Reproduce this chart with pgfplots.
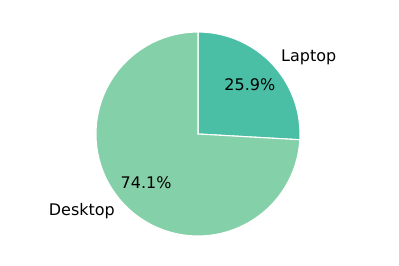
\documentclass[border=0pt]{standalone}
\usepackage{pgfplots}
\pgfplotsset{compat=1.18}
\usepackage{fontspec}
\setmainfont{DejaVu Sans}
\definecolor{lapc}{RGB}{75,191,166}
\definecolor{deskc}{RGB}{132,208,169}
\begin{document}
\begin{tikzpicture}
\pgfmathsetmacro{\lap}{25.9}
\pgfmathsetmacro{\desk}{74.1}
\pgfmathsetmacro{\aend}{90-\lap*3.6}
\pgfmathsetmacro{\dend}{\aend-\desk*3.6}
\pgfmathsetmacro{\lmid}{90-\lap*1.8}
\pgfmathsetmacro{\dmid}{\aend-\desk*1.8}
\begin{axis}[width=287.3pt,height=191.5pt,scale only axis,
  xmin=-1.941,xmax=1.971,ymin=-1.294,ymax=1.314,
  axis line style={draw=none},ticks=none,clip=false]
\addplot[fill=lapc,draw=white,line width=0.8pt,domain=90:\aend,samples=80,variable=\t]
  ({cos(\t)},{sin(\t)}) -- (0,0) -- cycle;
\addplot[fill=deskc,draw=white,line width=0.8pt,domain=\aend:\dend,samples=200,variable=\t]
  ({cos(\t)},{sin(\t)}) -- (0,0) -- cycle;
\node[anchor=west,inner sep=1pt,font=\fontsize{11.5}{13}\selectfont] at (axis cs:{1.1*cos(\lmid)},{1.1*sin(\lmid)}) {Laptop};
\node[anchor=east,inner sep=1pt,font=\fontsize{11.5}{13}\selectfont] at (axis cs:{1.1*cos(\dmid)},{1.1*sin(\dmid)}) {Desktop};
\node[font=\fontsize{11.5}{13}\selectfont] at (axis cs:{0.7*cos(\lmid)},{0.7*sin(\lmid)}) {25.9\%};
\node[font=\fontsize{11.5}{13}\selectfont] at (axis cs:{0.7*cos(\dmid)},{0.7*sin(\dmid)}) {74.1\%};
\end{axis}
\useasboundingbox (current axis.south west) rectangle (current axis.north east);
\end{tikzpicture}
\end{document}
